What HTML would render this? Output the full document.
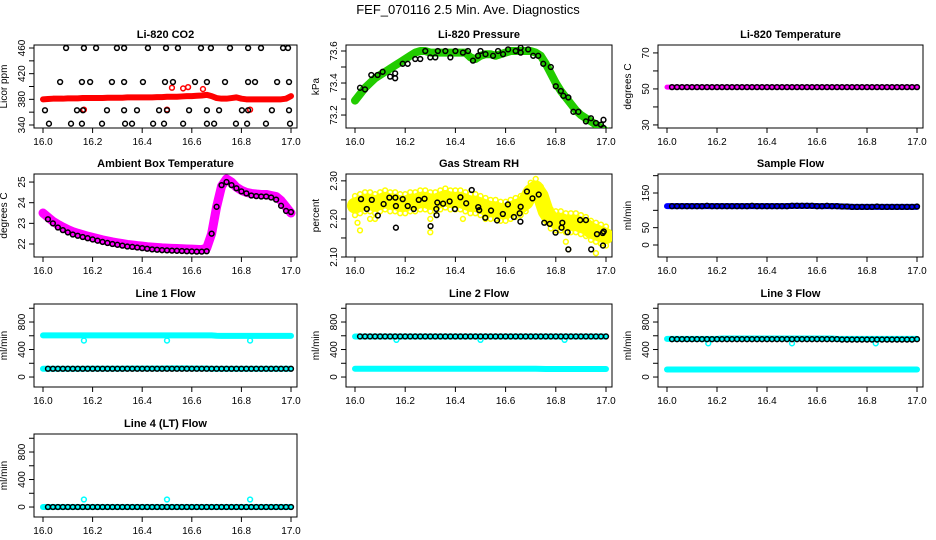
<!DOCTYPE html>
<html><head><meta charset="utf-8"><style>
html,body{margin:0;padding:0;background:#fff;}
svg{display:block;font-family:"Liberation Sans",Arial,sans-serif;}
</style></head><body>
<svg id="c" width="936" height="540" viewBox="0 0 936 540" xmlns="http://www.w3.org/2000/svg">
<text x="468" y="14" text-anchor="middle" font-size="13">FEF_070116  2.5 Min. Ave. Diagnostics</text>
</svg>
<script>
const T=[16.00,16.02,16.04,16.06,16.08,16.10,16.12,16.14,16.16,16.18,16.20,16.22,16.24,16.26,16.28,16.30,16.32,16.34,16.36,16.38,16.40,16.42,16.44,16.46,16.48,16.50,16.52,16.54,16.56,16.58,16.60,16.62,16.64,16.66,16.68,16.70,16.72,16.74,16.76,16.78,16.80,16.82,16.84,16.86,16.88,16.90,16.92,16.94,16.96,16.98,17.00];
const xTicks=[16.0,16.2,16.4,16.6,16.8,17.0];
const xTickLabels=["16.0","16.2","16.4","16.6","16.8","17.0"];
// CO2
const co2Band=[380,380.5,381,381,381,381.5,381.5,381.5,382,382,382,382,382,382.5,382.5,382.5,382.5,383,383,383,383,383,383,383.5,383.5,384,384,384,384.5,385,385,385.5,386,387,385,382,381,381,382,383,381,380,380,380,380,380,380,380,380,381,385];
const co2PtsT=[16.093,16.165,16.214,16.298,16.327,16.423,16.496,16.544,16.637,16.677,16.754,16.827,16.879,16.968,16.988,16.069,16.157,16.19,16.278,16.327,16.403,16.492,16.524,16.613,16.661,16.734,16.827,16.855,16.944,16.992,16.008,16.137,16.161,16.258,16.327,16.379,16.468,16.5,16.589,16.661,16.71,16.802,16.827,16.923,16.992,16.024,16.113,16.157,16.238,16.331,16.359,16.444,16.488,16.565,16.661,16.69,16.778,16.823,16.899,16.996];
const co2PtsV=[460,460,460,460,460,460,460,460,460,460,460,460,460,460,460,407,407,407,407,407,407,407,407,407,407,407,407,407,407,407,363,363,363,363,363,363,363,363,363,363,363,363,363,363,363,342,342,342,342,342,342,342,342,342,342,342,342,342,342,342];
const co2RedT=[16.52,16.565,16.585,16.645,16.165,16.5,16.835];
const co2RedV=[398,397,399,396,364,364,364];
// Pressure
const presBand=[73.29,73.33,73.37,73.40,73.43,73.45,73.47,73.49,73.51,73.53,73.55,73.57,73.59,73.60,73.60,73.59,73.59,73.59,73.59,73.59,73.59,73.59,73.59,73.56,73.55,73.57,73.58,73.58,73.57,73.58,73.59,73.60,73.60,73.60,73.60,73.60,73.59,73.57,73.52,73.46,73.40,73.35,73.31,73.27,73.23,73.20,73.18,73.16,73.14,73.12,73.10];
const presPtsT=[16.02,16.04,16.065,16.09,16.11,16.14,16.16,16.16,16.19,16.21,16.24,16.26,16.28,16.3,16.32,16.33,16.36,16.38,16.4,16.43,16.45,16.47,16.49,16.5,16.52,16.55,16.57,16.59,16.61,16.64,16.66,16.66,16.69,16.71,16.73,16.75,16.78,16.8,16.82,16.83,16.85,16.87,16.89,16.92,16.94,16.96,16.98,16.99,16.99];
const presPtsV=[73.37,73.36,73.45,73.45,73.47,73.44,73.46,73.43,73.52,73.52,73.55,73.55,73.6,73.56,73.56,73.6,73.6,73.56,73.6,73.59,73.6,73.54,73.57,73.6,73.58,73.57,73.6,73.58,73.61,73.6,73.62,73.59,73.61,73.57,73.57,73.52,73.5,73.38,73.35,73.32,73.31,73.22,73.22,73.16,73.18,73.15,73.14,73.17,73.12];
// Li-820 temperature
const liTempBand=[51,51,51,51,51,51,51,51,51,51,51,51,51,51,51,51,51,51,51,51,51,51,51,51,51,51,51,51,51,51,51,51,51,51,51,51,51,51,51,51,51,51,51,51,51,51,51,51,51,51,51];
const liTempPts=[null,51,51,51,51,51,51,51,51,51,51,51,51,51,51,51,51,51,51,51,51,51,51,51,51,51,51,51,51,51,51,51,51,51,51,51,51,51,51,51,51,51,51,51,51,51,51,51,51,51,51];
// Ambient box temperature
const ambBand=[23.5,23.3,23.1,22.95,22.82,22.7,22.6,22.52,22.45,22.38,22.32,22.26,22.2,22.15,22.1,22.06,22.02,21.98,21.95,21.92,21.9,21.87,21.85,21.83,21.81,21.8,21.79,21.78,21.77,21.76,21.75,21.74,21.73,21.8,22.5,23.8,24.8,25.15,25.0,24.75,24.6,24.5,24.45,24.42,24.4,24.4,24.35,24.3,24.1,23.8,23.5];
const ambPts=[null,23.2,23.0,22.8,22.67,22.56,22.46,22.4,22.34,22.28,22.22,22.16,22.1,22.05,22.0,21.96,21.92,21.88,21.86,21.83,21.8,21.77,21.74,21.72,21.7,21.69,21.68,21.67,21.66,21.65,21.64,21.63,21.63,21.65,22.5,23.8,24.85,25.0,24.85,24.7,24.55,24.45,24.35,24.32,24.3,24.3,24.25,24.15,23.85,23.6,23.55];
// Gas stream RH
const rhBand=[2.235,2.24,2.245,2.245,2.24,2.245,2.25,2.245,2.245,2.24,2.24,2.245,2.245,2.25,2.25,2.245,2.245,2.25,2.255,2.25,2.25,2.25,2.245,2.24,2.24,2.235,2.23,2.225,2.225,2.22,2.22,2.225,2.23,2.235,2.245,2.27,2.28,2.26,2.22,2.2,2.195,2.195,2.19,2.19,2.19,2.185,2.18,2.17,2.165,2.16,2.155];
const rhYellowT=[16.01,16.02,16.08,16.3,16.3,16.43,16.85,16.96,16.84,16.06,16.52];
const rhYellowV=[2.19,2.17,2.2,2.165,2.2,2.2,2.12,2.11,2.14,2.2,2.2];
const rhPtsT=[16.024,16.047,16.067,16.091,16.114,16.137,16.161,16.163,16.163,16.19,16.21,16.234,16.254,16.277,16.301,16.324,16.325,16.328,16.351,16.377,16.398,16.42,16.443,16.465,16.491,16.495,16.519,16.542,16.566,16.589,16.609,16.633,16.656,16.659,16.66,16.685,16.707,16.732,16.754,16.776,16.799,16.823,16.826,16.847,16.85,16.897,16.92,16.941,16.964,16.987,16.988,16.991];
const rhPtsV=[2.252,2.226,2.25,2.209,2.239,2.256,2.256,2.234,2.177,2.252,2.234,2.226,2.25,2.253,2.181,2.226,2.21,2.243,2.24,2.246,2.226,2.257,2.241,2.276,2.231,2.223,2.203,2.222,2.196,2.213,2.238,2.205,2.215,2.193,2.232,2.272,2.254,2.264,2.19,2.187,2.164,2.177,2.19,2.165,2.12,2.197,2.197,2.12,2.16,2.163,2.13,2.167];
// Sample flow
const sfBand=[112,112,112,112,112,112,112,112,112,112,112,112,112,112,112,112,112,112,112,112,112,112,112,112,112,113,113,113,113,113,112,112,112,112,112,111,111,110,110,110,110,110,110,110,110,110,110,110,110,110,110];
const sfPts=[null,112,112,112,112,112,112,112,113,112,112,112,112,112,112,112,112,113,112,112,112,112,112,112,112,113,113,113,113,113,112,112,113,112,112,111,111,110,110,110,110,110,111,110,110,110,110,110,110,110,111];
// Line flows
const l1Cyan=[605,605,605,605,605,605,605,605,605,605,605,605,605,605,605,605,605,605,605,605,605,605,605,605,605,605,605,605,605,605,605,605,605,605,605,600,598,598,598,598,598,598,598,598,598,598,598,598,598,598,598];
const l1CyanLow=[120,120,120,120,120,120,120,120,120,122,122,122,122,122,122,122,122,124,124,124,124,124,124,124,124,126,126,126,126,126,124,124,124,124,120,120,120,120,120,120,120,120,120,120,120,120,120,120,120,120,120];
const l1Black=[null,120,120,120,120,120,120,120,120,120,120,120,120,120,120,120,120,120,120,120,120,120,120,120,120,120,120,120,120,120,120,120,120,120,120,120,120,120,120,120,120,120,120,120,120,120,120,120,120,120,120];
const l2Cyan=[590,590,590,590,590,590,590,590,590,590,590,590,590,590,590,590,590,590,590,590,590,590,590,590,590,590,590,590,590,590,590,590,590,590,590,590,590,590,590,590,590,590,590,590,590,590,590,590,590,590,590];
const l2CyanLow=[120,120,120,120,120,120,120,120,120,120,120,120,120,120,120,120,120,120,120,120,120,120,120,120,120,120,120,120,120,120,120,120,120,120,120,120,120,118,116,116,116,116,116,116,116,116,116,116,116,116,116];
const l2Black=[null,590,590,590,590,590,590,590,590,590,590,590,590,590,590,590,590,590,590,590,590,590,590,590,590,590,590,590,590,590,590,590,590,590,590,590,590,590,590,590,590,590,590,590,590,590,590,590,590,590,590];
const l3Cyan=[555,555,555,555,555,555,555,555,555,555,555,560,560,560,560,560,560,560,560,560,560,560,560,560,560,560,560,560,560,560,560,560,560,560,555,555,555,555,555,555,555,555,555,555,555,555,555,555,555,555,555];
const l3CyanLow=[110,110,110,110,110,110,110,110,110,110,110,110,110,110,110,110,110,110,110,110,110,110,110,110,110,110,110,110,110,110,110,110,110,110,110,110,110,110,110,110,110,110,110,110,110,110,110,110,110,110,110];
const l3Black=[null,550,550,550,550,550,550,550,550,550,550,550,550,550,550,550,550,550,550,550,550,550,550,550,550,550,550,550,550,550,550,550,550,550,550,545,545,545,545,545,545,545,545,545,545,545,545,545,545,545,550];
const dipT=[16.165,16.5,16.835];
const l1Dip=[530,530,530];
const l2Dip=[540,540,540];
const l3Dip=[490,490,490];
const l4Cyan=[0,0,0,0,0,0,0,0,0,0,0,0,0,0,0,0,0,0,0,0,0,0,0,0,0,0,0,0,0,0,0,0,0,0,0,0,0,0,0,0,0,0,0,0,0,0,0,0,0,0,0];
const l4Black=[null,0,0,0,0,0,0,0,0,0,0,0,0,0,0,0,0,0,0,0,0,0,0,0,0,0,0,0,0,0,0,0,0,0,0,0,0,0,0,0,0,0,0,0,0,0,0,0,0,0,0];
const l4Spike=[110,110,110];

const NS="http://www.w3.org/2000/svg";
const svg=document.getElementById('c');
const colL=[34,346,658], colR=[297,612,923], rowT=[45,174,304,434], H=83;
function mk(tag,attrs,parent){const e=document.createElementNS(NS,tag);for(const k in attrs)e.setAttribute(k,attrs[k]);(parent||svg).appendChild(e);return e;}

function panel(name,col,row,title,ylab,ylo,yhi,yt,ylabVals){
  const L=colL[col],R=colR[col],Tp=rowT[row],B=Tp+H;
  const g=mk('g',{});
  
  
  const x0=L+9,x1=R-6;
  const sx=t=>x0+(t-16)*(x1-x0);
  const sy=v=>B-(v-ylo)/(yhi-ylo)*H;
  const box=mk('rect',{x:L,y:Tp,width:R-L,height:H,fill:'none',stroke:'#000','stroke-width':1},g);
  
  
  const tt=mk('text',{x:(L+R)/2,y:Tp-7,'text-anchor':'middle','font-size':11,'font-weight':'bold'},g);
  tt.textContent=title;
  
  
  xTicks.forEach((v,i)=>{
    mk('line',{x1:sx(v),x2:sx(v),y1:B,y2:B+5,stroke:'#000'},g);
    const tx=mk('text',{x:sx(v),y:B+17,'text-anchor':'middle','font-size':10},g);
    tx.textContent=xTickLabels[i];
    
    
  });
  yt.forEach(v=>{
    mk('line',{x1:L,x2:L-5,y1:sy(v),y2:sy(v),stroke:'#000'},g);
  });
  ylabVals.forEach(v=>{
    const x=L-9,y=sy(v);
    const ty=mk('text',{x:x,y:y,'text-anchor':'middle','font-size':10,transform:`rotate(-90 ${x} ${y})`},g);
    ty.textContent=v.label;
    
    
  });
  const ax=L-27, ay=(Tp+B)/2;
  const yl=mk('text',{x:ax,y:ay,'text-anchor':'middle','font-size':10,transform:`rotate(-90 ${ax} ${ay})`},g);
  yl.textContent=ylab;
  
  
  const clip=mk('clipPath',{id:'cl'+name},g);
  mk('rect',{x:L,y:Tp,width:R-L,height:H},clip);
  const d=mk('g',{'clip-path':`url(#cl${name})`},g);
  return {sx,sy,g:d};
}
function lab(vals){return vals.map(v=>({value:v,label:String(v)}));}
function labs(vals,strs){return vals.map((v,i)=>({value:v,label:strs[i]}));}
function fixLab(arr){return arr;}
// patch: ylabVals items have .value; sy uses value
function band(p,ts,vs,color,w,name){
  let pts=[];ts.forEach((t,i)=>{if(vs[i]!=null)pts.push(p.sx(t)+','+p.sy(vs[i]));});
  const e=mk('polyline',{points:pts.join(' '),fill:'none',stroke:color,'stroke-width':w,'stroke-linejoin':'round','stroke-linecap':'round'},p.g);
  
  
}
function pts(p,ts,vs,color,name,r){
  ts.forEach((t,i)=>{ if(vs[i]==null)return;
    const c=mk('circle',{cx:p.sx(t),cy:p.sy(vs[i]),r:r||2.4,fill:'none',stroke:color,'stroke-width':1.5},p.g);
    
    
  });
}
function P(name,col,row,title,ylab,ylo,yhi,yt,lv){
  const p=panel(name,col,row,title,ylab,ylo,yhi,yt,[]);
  // draw tick labels with values
  const L=colL[col];
  lv.forEach(o=>{const x=L-9,y=p.sy(o.value);
    const ty=mk('text',{x:x,y:y,'text-anchor':'middle','font-size':10,transform:`rotate(-90 ${x} ${y})`},p.g.parentNode);
    ty.textContent=o.label;
    
    
  });
  return p;
}
const MAG='#ff00ff', CY='#00ffff';
// CO2
let p=P('co2',0,0,'Li-820 CO2','Licor ppm',335.3,464.7,[340,360,380,400,420,440,460],lab([340,380,420,460]));
band(p,T,co2Band,'#ff0000',6,'co2-series-band');
pts(p,co2RedT,co2RedV,'#ff0000','co2-red-point');
pts(p,co2PtsT,co2PtsV,'#000','co2-point');
// Pressure
p=P('pressure',1,0,'Li-820 Pressure','kPa',73.119,73.6375,[73.2,73.3,73.4,73.5,73.6],labs([73.2,73.4,73.6],['73.2','73.4','73.6']));
band(p,T,presBand,'#22cc00',8,'pressure-series-band');
pts(p,presPtsT,presPtsV,'#000','pressure-point');
// Li temp
p=P('li-temp',2,0,'Li-820 Temperature','degrees C',28.3,74.4,[30,40,50,60,70],lab([30,50,70]));
band(p,T,liTempBand,MAG,5,'li-temp-series-band');
pts(p,T,liTempPts,'#000','li-temp-point');
// Ambient
p=P('ambient',0,1,'Ambient Box Temperature','degrees C',21.37,25.39,[22,23,24,25],lab([22,23,24,25]));
band(p,T,ambBand,MAG,9,'ambient-series-band');
pts(p,T,ambPts,'#000','ambient-point');
// RH
p=P('rh',1,1,'Gas Stream RH','percent',2.10,2.318,[2.10,2.15,2.20,2.25,2.30],labs([2.10,2.20,2.30],['2.10','2.20','2.30']));
band(p,T,rhBand,'#ffff00',16,'rh-series-band');
pts(p,T,rhBand.map(v=>v+0.025),'#ffff00','rh-yellow-point');
pts(p,T,rhBand.map(v=>v-0.025),'#ffff00','rh-yellow-point');
pts(p,rhYellowT,rhYellowV,'#ffff00','rh-yellow-point');
pts(p,rhPtsT,rhPtsV,'#000','rh-point');
// Sample flow
p=P('sample-flow',2,1,'Sample Flow','ml/min',-34.6,204.8,[0,50,100,150,200],lab([0,50,150]));
band(p,T,sfBand,'#0000ff',6,'sample-flow-series-band');
pts(p,T,sfPts,'#000','sample-flow-point');
const fT=[0,200,400,600,800,1000], fL=lab([0,400,800]);
// Line 1
p=P('line1',0,2,'Line 1 Flow','ml/min',-145,1062,fT,fL);
band(p,T,l1Cyan,CY,6,'line1-cyan-band-high');
band(p,T,l1CyanLow,CY,6,'line1-cyan-band-low');
pts(p,dipT,l1Dip,CY,'line1-cyan-dip');
pts(p,T,l1Black,'#000','line1-point');
// Line 2
p=P('line2',1,2,'Line 2 Flow','ml/min',-145,1062,fT,fL);
band(p,T,l2Cyan,CY,6,'line2-cyan-band-high');
band(p,T,l2CyanLow,CY,6,'line2-cyan-band-low');
pts(p,dipT,l2Dip,CY,'line2-cyan-dip');
pts(p,T,l2Black,'#000','line2-point');
// Line 3
p=P('line3',2,2,'Line 3 Flow','ml/min',-145,1062,fT,fL);
band(p,T,l3Cyan,CY,6,'line3-cyan-band-high');
band(p,T,l3CyanLow,CY,6,'line3-cyan-band-low');
pts(p,dipT,l3Dip,CY,'line3-cyan-dip');
pts(p,T,l3Black,'#000','line3-point');
// Line 4
p=P('line4',0,3,'Line 4 (LT) Flow','ml/min',-145,1062,fT,fL);
band(p,T,l4Cyan,CY,6,'line4-cyan-band');
pts(p,dipT,l4Spike,CY,'line4-cyan-spike');
pts(p,T,l4Black,'#000','line4-point');
</script>
</body></html>
